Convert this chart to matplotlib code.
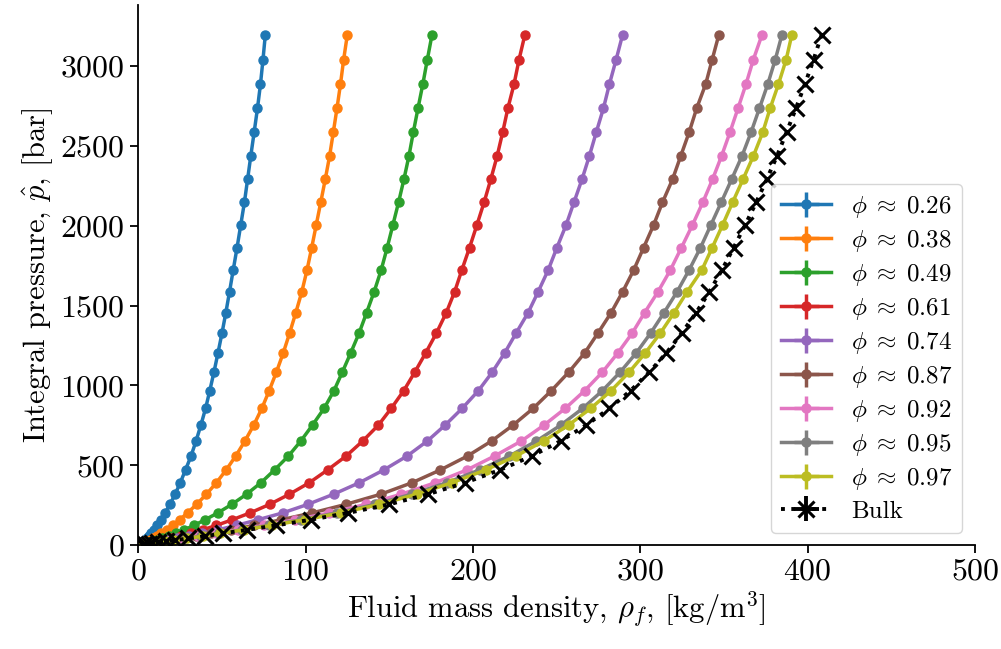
import numpy as np
import matplotlib.pyplot as plt

plt.rcParams['font.family'] = 'serif'
plt.rcParams['font.serif'] = ['cmr10', 'DejaVu Serif']
plt.rcParams['mathtext.fontset'] = 'cm'
plt.rcParams['axes.formatter.use_mathtext'] = True

# integral pressure levels [bar], shared by every series
pressure = [3196, 3040, 2886, 2734, 2584, 2436, 2290, 2146, 2004, 1862,
            1722, 1586, 1455, 1327, 1203, 1083, 967, 856, 752, 652,
            558, 471, 391, 319, 255, 202, 159, 124, 96, 74,
            56, 42, 31, 23, 17, 12, 9, 6, 4]

phi_labels = ['0.26', '0.38', '0.49', '0.61', '0.74', '0.87', '0.92', '0.95', '0.97']

rho_026 = [76.0, 74.6, 73.1, 71.3, 69.3, 67.3, 65.4, 63.5, 61.3, 59.1,
           56.8, 54.6, 52.4, 50.1, 47.7, 45.3, 42.8, 40.3, 37.5, 34.6,
           31.6, 28.3, 25.2, 22.1, 19.0, 16.1, 13.5, 11.3, 9.3, 7.7,
           6.2, 5.0, 4.0, 3.2, 2.5, 1.9, 1.5, 1.0, 0.7]
rho_038 = [125.0, 122.8, 120.9, 118.8, 116.6, 114.4, 111.8, 109.1, 106.4, 103.7,
           100.9, 97.8, 94.2, 90.5, 86.7, 82.6, 78.3, 73.9, 69.1, 63.8,
           58.3, 52.6, 46.8, 40.8, 34.9, 29.5, 24.8, 20.6, 17.0, 13.9,
           11.2, 8.8, 6.8, 5.2, 3.9, 2.9, 2.2, 1.5, 1.0]
rho_049 = [175.6, 172.8, 170.1, 167.2, 164.4, 161.8, 158.8, 155.6, 152.2, 148.8,
           145.2, 141.0, 136.5, 132.0, 127.0, 122.0, 117.0, 111.1, 104.2, 97.2,
           89.8, 81.5, 73.4, 64.8, 55.9, 47.6, 40.0, 33.4, 27.6, 22.6,
           18.2, 14.4, 11.2, 8.6, 6.5, 4.7, 3.6, 2.4, 1.6]
rho_061 = [231.1, 227.6, 224.6, 220.9, 217.8, 214.5, 210.7, 206.7, 202.4, 198.0,
           193.4, 189.1, 184.1, 178.2, 171.8, 165.3, 158.7, 151.2, 143.6, 134.2,
           124.3, 113.2, 102.3, 90.4, 78.5, 66.9, 56.2, 46.8, 38.6, 31.5,
           25.4, 20.0, 15.6, 11.9, 8.9, 6.5, 4.9, 3.3, 2.2]
rho_074 = [289.5, 285.6, 281.6, 278.0, 273.7, 269.6, 265.2, 260.4, 255.7, 250.2,
           245.0, 239.0, 233.0, 225.8, 219.0, 211.6, 203.3, 193.6, 183.5, 172.8,
           160.7, 146.8, 132.2, 116.8, 101.3, 86.4, 71.5, 58.8, 47.6, 38.2,
           30.3, 23.5, 17.9, 13.4, 10.0, 7.1, 5.3, 3.6, 2.4]
rho_087 = [347.0, 343.0, 339.1, 333.7, 329.2, 324.2, 319.3, 313.3, 308.0, 302.0,
           296.1, 289.5, 282.6, 274.7, 266.8, 257.3, 246.9, 236.0, 224.1, 211.2,
           196.8, 180.6, 163.7, 145.0, 124.0, 104.0, 85.5, 69.2, 55.4, 43.8,
           34.4, 26.5, 20.0, 14.9, 11.0, 7.8, 5.8, 3.9, 2.6]
rho_092 = [372.8, 367.6, 363.2, 358.4, 353.6, 348.6, 343.2, 337.4, 331.2, 324.6,
           318.0, 310.6, 302.6, 295.2, 286.6, 277.4, 266.8, 255.2, 242.6, 229.0,
           213.0, 196.4, 177.6, 157.2, 136.0, 114.2, 93.8, 75.2, 59.4, 46.3,
           35.6, 26.9, 19.9, 14.8, 10.9, 7.7, 5.8, 3.8, 2.5]
rho_095 = [384.7, 380.7, 376.2, 371.2, 366.2, 360.8, 354.6, 348.4, 342.2, 336.0,
           329.2, 322.0, 314.2, 306.2, 297.6, 288.0, 277.4, 265.6, 252.6, 238.0,
           221.8, 204.0, 184.4, 163.4, 141.4, 118.6, 97.4, 78.2, 61.8, 48.2,
           37.8, 28.4, 21.0, 15.6, 11.5, 8.1, 6.1, 4.0, 2.7]
rho_097 = [390.6, 387.2, 382.6, 377.6, 373.2, 367.6, 361.4, 355.2, 349.2, 343.0,
           336.8, 328.0, 320.2, 312.0, 303.0, 293.4, 282.6, 270.4, 257.2, 242.4,
           225.8, 207.6, 187.6, 166.4, 144.2, 121.0, 99.4, 79.8, 63.0, 49.2,
           38.6, 29.0, 21.4, 15.9, 11.7, 8.3, 6.2, 4.1, 2.7]
rho_bulk = [408.4, 403.6, 398.4, 393.0, 387.4, 381.7, 375.6, 369.3, 362.7, 355.8,
            348.8, 341.3, 333.4, 324.8, 315.6, 305.4, 294.2, 281.6, 267.8, 252.4,
            235.2, 216.2, 195.4, 173.2, 149.8, 125.5, 103.0, 82.6, 65.2, 50.8,
            40.0, 30.0, 22.2, 16.4, 12.1, 8.5, 6.4, 4.2, 2.8]

series = [rho_026, rho_038, rho_049, rho_061, rho_074,
          rho_087, rho_092, rho_095, rho_097]

fig, ax = plt.subplots(figsize=(10.01, 6.49), dpi=100)
fig.subplots_adjust(left=0.138, right=0.974, bottom=0.160, top=0.992)

for i, (rho, lab) in enumerate(zip(series, phi_labels)):
    ax.errorbar(rho, pressure, xerr=0, yerr=0, fmt='-o', color='C%d' % i,
                lw=2.5, ms=6.5, elinewidth=2.5,
                label=r'$\phi\;\approx\;%s$' % lab)

ax.errorbar(rho_bulk, pressure, xerr=0, yerr=0, fmt='x:', color='k',
            lw=2.8, ms=11, mew=2.2, elinewidth=2.8, label='Bulk')

ax.set_xlim(0, 500)
ax.set_ylim(0, 3380)
ax.set_xticks([0, 100, 200, 300, 400, 500])
ax.set_yticks([0, 500, 1000, 1500, 2000, 2500, 3000])
ax.tick_params(labelsize=23, length=6, width=1.3)
for s in ['top', 'right']:
    ax.spines[s].set_visible(False)
for s in ['left', 'bottom']:
    ax.spines[s].set_linewidth(1.3)

ax.set_xlabel(r'Fluid mass density, $\rho_f$, [kg/m$^3$]', fontsize=22, labelpad=2)
ax.set_ylabel(r'Integral pressure, $\hat{p}$, [bar]', fontsize=22)

ax.legend(loc='lower right', fontsize=18, labelspacing=0.32)

fig.savefig('out.png', dpi=100)
